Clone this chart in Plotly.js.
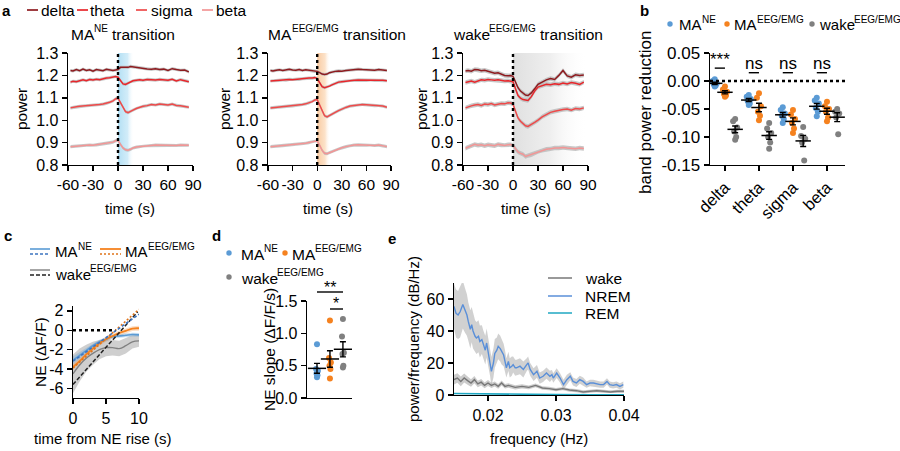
<!DOCTYPE html>
<html><head><meta charset="utf-8">
<script src="https://cdn.plot.ly/plotly-3.0.1.min.js"></script>
<style>html,body{margin:0;padding:0;background:#fff}#chart{width:900px;height:451px}</style>
</head><body><div id="chart"></div>
<script>
// ================= DATA =================
const bandNames = ['delta', 'theta', 'sigma', 'beta'];
const groupBase = ['MA', 'MA', 'wake'];
const groupSup = ['NE', 'EEG/EMG', 'EEG/EMG'];
const titleSuffix = ' transition';

// panel a: band power around transitions
const timeA = [-57,-54,-50,-46,-42,-38,-34,-30,-26,-22,-18,-14,-10,-6,-3,0,3,6,9,12,15,18,22,26,30,35,40,45,50,55,60,65,70,75,80,85];
const maNE_delta = [1.222,1.220,1.226,1.221,1.228,1.222,1.225,1.219,1.226,1.223,1.221,1.227,1.224,1.222,1.224,1.226,1.236,1.235,1.237,1.236,1.240,1.238,1.236,1.232,1.230,1.229,1.227,1.230,1.226,1.228,1.222,1.230,1.226,1.223,1.224,1.216];
const maNE_theta = [1.170,1.174,1.172,1.177,1.180,1.176,1.182,1.180,1.183,1.181,1.186,1.188,1.190,1.193,1.195,1.192,1.175,1.162,1.160,1.165,1.172,1.176,1.178,1.180,1.178,1.182,1.181,1.179,1.182,1.180,1.178,1.183,1.175,1.181,1.177,1.172];
const maNE_sigma = [1.055,1.058,1.060,1.062,1.063,1.065,1.066,1.065,1.068,1.070,1.072,1.075,1.080,1.086,1.095,1.098,1.078,1.055,1.038,1.034,1.038,1.045,1.052,1.058,1.062,1.065,1.070,1.068,1.072,1.070,1.068,1.072,1.066,1.064,1.060,1.058];
const maNE_beta  = [0.882,0.883,0.884,0.887,0.886,0.888,0.889,0.888,0.890,0.892,0.893,0.895,0.898,0.902,0.908,0.910,0.892,0.876,0.868,0.866,0.870,0.876,0.880,0.882,0.885,0.886,0.887,0.889,0.888,0.887,0.889,0.888,0.887,0.889,0.888,0.888];
const maEEG_delta = [1.222,1.220,1.223,1.225,1.222,1.224,1.227,1.224,1.223,1.226,1.222,1.225,1.223,1.220,1.218,1.218,1.212,1.206,1.204,1.206,1.212,1.216,1.218,1.220,1.219,1.222,1.224,1.226,1.228,1.226,1.224,1.225,1.223,1.226,1.224,1.222];
const maEEG_theta = [1.175,1.176,1.178,1.177,1.180,1.179,1.182,1.181,1.183,1.182,1.185,1.186,1.188,1.188,1.190,1.186,1.165,1.150,1.145,1.148,1.152,1.158,1.164,1.170,1.172,1.175,1.177,1.178,1.180,1.179,1.178,1.180,1.177,1.178,1.178,1.176];
const maEEG_sigma = [1.055,1.056,1.058,1.060,1.061,1.062,1.063,1.064,1.066,1.068,1.070,1.073,1.077,1.083,1.090,1.092,1.068,1.040,1.020,1.015,1.020,1.027,1.035,1.043,1.050,1.057,1.063,1.066,1.068,1.070,1.069,1.067,1.065,1.066,1.063,1.058];
const maEEG_beta  = [0.882,0.883,0.884,0.885,0.886,0.888,0.889,0.890,0.891,0.893,0.895,0.897,0.900,0.903,0.907,0.908,0.888,0.865,0.852,0.850,0.855,0.860,0.866,0.872,0.877,0.882,0.886,0.889,0.890,0.889,0.888,0.890,0.887,0.889,0.886,0.882];
const wake_delta = [1.220,1.222,1.219,1.226,1.225,1.221,1.223,1.219,1.215,1.210,1.212,1.205,1.200,1.198,1.199,1.196,1.170,1.145,1.130,1.120,1.112,1.110,1.122,1.140,1.160,1.170,1.180,1.186,1.182,1.200,1.222,1.198,1.192,1.203,1.200,1.202];
const wake_theta = [1.168,1.172,1.175,1.170,1.176,1.180,1.178,1.182,1.180,1.178,1.180,1.176,1.175,1.176,1.174,1.172,1.140,1.110,1.098,1.092,1.090,1.088,1.105,1.130,1.148,1.155,1.160,1.158,1.163,1.160,1.166,1.162,1.168,1.165,1.160,1.170];
const wake_sigma = [1.055,1.060,1.064,1.068,1.070,1.066,1.072,1.070,1.074,1.068,1.072,1.075,1.073,1.078,1.077,1.072,1.040,1.010,0.995,0.985,0.975,0.972,0.980,0.990,1.000,1.015,1.025,1.035,1.040,1.045,1.048,1.050,1.045,1.052,1.050,1.055];
const wake_beta  = [0.875,0.880,0.886,0.892,0.888,0.890,0.886,0.890,0.888,0.886,0.892,0.889,0.887,0.890,0.891,0.888,0.870,0.858,0.852,0.848,0.838,0.842,0.846,0.852,0.860,0.866,0.870,0.872,0.876,0.876,0.878,0.876,0.875,0.873,0.876,0.874];
const semA = [0.007, 0.007, 0.010];
const shadeStart = [0, 0, 0];
const shadeEnd = [19, 16, 90];

// panel b: band power reduction (per animal)
const bMANE  = [[0.003,0.000,-0.004,-0.006,-0.008,-0.010],[-0.025,-0.028,-0.032,-0.036,-0.040,-0.043],[-0.047,-0.052,-0.058,-0.062,-0.068,-0.075],[-0.030,-0.035,-0.040,-0.048,-0.055,-0.063]];
const bMAEEG = [[-0.010,-0.015,-0.019,-0.023,-0.026,-0.028],[-0.022,-0.030,-0.045,-0.055,-0.062,-0.070],[-0.052,-0.060,-0.068,-0.075,-0.085,-0.093],[-0.037,-0.045,-0.050,-0.055,-0.065,-0.072]];
const bWake  = [[-0.068,-0.072,-0.083,-0.090,-0.100,-0.105],[-0.075,-0.085,-0.093,-0.100,-0.110,-0.121],[-0.082,-0.098,-0.103,-0.110,-0.142],[-0.050,-0.055,-0.058,-0.065,-0.095]];
const bSigLabels = ['***', 'ns', 'ns', 'ns'];

// panel c: NE around rise
const cTime = [0,1,2,3,4,5,6,7,8,9,10];
const cMANE = [-3.1,-2.6,-2.1,-1.6,-1.2,-0.93,-0.66,-0.6,-0.52,-0.45,-0.48];
const cMANEsem = [0.4,0.35,0.3,0.25,0.22,0.2,0.2,0.2,0.2,0.2,0.2];
const cMAEEG = [-3.8,-3.2,-2.5,-1.9,-1.35,-0.93,-0.6,-0.3,-0.07,0.17,0.2];
const cMAEEGsem = [0.3,0.3,0.28,0.25,0.25,0.25,0.25,0.25,0.25,0.25,0.25];
const cWake = [-4.5,-3.6,-2.9,-2.4,-2.0,-1.8,-1.8,-1.9,-1.6,-1.2,-1.1];
const cWakesem = [2.0,1.7,1.4,1.2,1.0,0.9,0.8,0.8,0.8,0.7,0.6];
const cFitX = [0, 10];
const cFitMANE = [-3.2, 1.65];
const cFitMAEEG = [-3.9, 2.15];
const cFitWakeX = [0, 9.8];
const cFitWake = [-5.6, 1.9];

// panel d: NE slope
const dMANE = [0.83,0.45,0.42,0.38,0.35,0.32];
const dMAEEG = [1.20,0.62,0.55,0.50,0.45,0.30];
const dWake = [1.22,0.95,0.70,0.68,0.50,0.47];

// panel e: NE spectra
const nremF = [0.0150,0.0153,0.0156,0.0159,0.0163,0.0166,0.0169,0.0171,0.0174,0.0176,
  0.0178,0.0181,0.0183,0.0186,0.0188,0.0191,0.0193,0.0196,0.0198,0.0200,
  0.0203,0.0205,0.0208,0.0210,0.0213,0.0215,0.0218,0.0220,0.0223,0.0225,
  0.0227,0.0230,0.0232,0.0235,0.0237,0.0240,0.0242,0.0247,0.0252,0.0257,
  0.0259,0.0262,0.0267,0.0272,0.0276,0.0281,0.0286,0.0291,0.0294,0.0296,
  0.0301,0.0306,0.0311,0.0316,0.0321,0.0325,0.0330,0.0335,0.0340,0.0345,
  0.0350,0.0355,0.0360,0.0365,0.0370,0.0375,0.0379,0.0384,0.0389,0.0394,0.0399];
const nremP = [55.4,51,50,52,56.5,53,50,46,41,44,
  40,36.7,35.6,36.7,33.5,34.6,31.5,28,32.5,27,
  21,14.8,20,26,28,30.4,29,27,25,21,
  17,21,17,18,19,17,17,18,16,19,
  20,16,12.7,14.8,10.6,11.7,13.7,11.7,12.7,10.6,
  13.7,10.6,6.5,9.6,11.7,8.5,7.5,9.6,8.5,6.5,
  7.5,7.5,6.9,6.5,6.5,8.5,6.5,6,6.5,5.4,6.5];
const nremS = [14,15,15,16,15,14,13,12,12,11,
  11,10,10,10,10,9,9,9,9,9,
  9,9,9,9,8,8,8,8,7,7,
  6,6,6,6,5,5,5,5,5,4,
  4,4,4,4,3.5,3.5,3.5,3.5,3,3,
  3,3,3,3,2.5,2.5,2.5,2.5,2.5,2,
  2,2,2,2,2,2,2,2,2,2,2];
const wakeF = [0.0150,0.0155,0.0160,0.0165,0.0170,0.0175,0.0180,0.0185,0.0190,0.0195,0.0200,0.0205,0.0210,0.0215,0.0220,0.0225,0.0230,0.0240,0.0250,0.0260,0.0270,0.0280,0.0290,0.0300,0.0310,0.0320,0.0330,0.0340,0.0350,0.0360,0.0370,0.0380,0.0390,0.0400];
const wakeP = [9.6,10.6,8.5,10.6,9,7.5,9.6,6.9,8,6,7.5,6,6.9,5.4,7.5,5.4,6,4.8,5.4,4.8,6,4.4,4,3.3,4,3.1,2.7,1.9,2.3,2.7,2.3,1.9,2.3,2.3];
const wakeS = [3,3,3,2.8,2.6,2.4,2.2,2,2,1.8,1.8,1.6,1.6,1.5,1.5,1.4,1.4,1.3,1.3,1.2,1.2,1.1,1.1,1,1,1,1,1,1,1,1,1,1,1];
const remF = [0.015,0.020,0.025,0.030,0.035,0.040];
const remP = [0.9,0.6,0.4,0.3,0.2,0.2];

// ================= STYLE / HELPERS =================
const W = 900, H = 451;
const FONT = 'Liberation Sans, Arial, Helvetica, sans-serif';
const TICK = 16, TXT = 15, SUP = 10;
const bandColors = ['#8e1b1f', '#e8262b', '#ee4a4a', '#f29595'];
const cBlue = '#5b9bd5', cOrange = '#f5821f', cGray = '#808080';
const px = v => v / W, py = v => 1 - v / H;
const dom = (a, b) => [a / W, b / W];
const domY = (top, bot) => [1 - bot / H, 1 - top / H];
const f = s => ({family: FONT, size: s, color: '#000'});
const ctx = document.createElement('canvas').getContext('2d');
function tw(text, size) { ctx.font = size + 'px "Liberation Sans", Arial, sans-serif'; return ctx.measureText(text).width; }

function axis(extra) {
  return Object.assign({
    showline: true, linecolor: '#000', linewidth: 1.4, ticks: 'outside', ticklen: 5,
    tickwidth: 1.4, tickcolor: '#000', showgrid: false, zeroline: false, fixedrange: true,
    tickfont: f(TICK)
  }, extra);
}
function bandTrace(x, y, s, xa, ya, color) {
  const up = y.map((v, i) => v + s[i]);
  const lo = y.map((v, i) => v - s[i]).reverse();
  return {x: x.concat(x.slice().reverse()), y: up.concat(lo), mode: 'lines', fill: 'toself',
    fillcolor: color, line: {width: 0}, xaxis: xa, yaxis: ya, hoverinfo: 'skip', showlegend: false};
}
function lineTrace(x, y, xa, ya, color, width, dash, shape) {
  return {x, y, mode: 'lines', line: {color, width: width || 1.5, dash: dash || 'solid', shape: shape || 'linear'},
    xaxis: xa, yaxis: ya, hoverinfo: 'skip', showlegend: false};
}
const mean = a => a.reduce((s, v) => s + v, 0) / a.length;
const sem = a => { const m = mean(a); return Math.sqrt(a.reduce((s, v) => s + (v - m) * (v - m), 0) / (a.length - 1)) / Math.sqrt(a.length); };

const traces = [];
const shapes = [];
const annotations = [];
function ann(text, x, y, o) {
  annotations.push(Object.assign({text, x: px(x), y: py(y), xref: 'paper', yref: 'paper', showarrow: false,
    xanchor: 'center', yanchor: 'middle', borderpad: 0, borderwidth: 0, font: f(TXT)}, o || {}));
}
// text with a superscript: parts = [[text, isSup], ...]
function rich(parts, x, y, size, anchor) {
  const items = parts.map(([t, sup]) => {
    const sz = sup ? SUP : size;
    const lead = t.startsWith(' ') ? tw(' ', sz) : 0;
    const txt = t.trim();
    return {txt, sz, sup, lead, w: lead + tw(txt, sz)};
  });
  const total = items.reduce((s, it) => s + it.w, 0);
  let cur = anchor === 'center' ? x - total / 2 : x;
  items.forEach(it => {
    cur += it.lead;
    ann(it.txt, cur, it.sup ? y - 0.36 * size : y, {xanchor: 'left', font: f(it.sz)});
    cur += it.w - it.lead;
  });
}
function hline(x0, x1, y, color, width, dash) {
  shapes.push({type: 'line', xref: 'paper', yref: 'paper', x0: px(x0), x1: px(x1), y0: py(y), y1: py(y),
    line: {color, width: width || 1.5, dash: dash || 'solid'}});
}
function dot(x, y, color) {
  const r = 2.7;
  shapes.push({type: 'circle', xref: 'paper', yref: 'paper', x0: px(x - r), x1: px(x + r), y0: py(y + r), y1: py(y - r),
    fillcolor: color, line: {width: 0}});
}

// ================= PANEL A =================
const aSeries = [
  [maNE_delta, maNE_theta, maNE_sigma, maNE_beta],
  [maEEG_delta, maEEG_theta, maEEG_sigma, maEEG_beta],
  [wake_delta, wake_theta, wake_sigma, wake_beta]
];
const shadeScales = [
  [[0, 'rgba(165,218,242,0.85)'], [0.6, 'rgba(190,228,246,0.7)'], [1, 'rgba(255,255,255,0)']],
  [[0, 'rgba(248,196,150,0.9)'], [0.6, 'rgba(251,214,178,0.7)'], [1, 'rgba(255,255,255,0)']],
  [[0, 'rgba(222,222,222,0.95)'], [0.5, 'rgba(236,236,236,0.85)'], [1, 'rgba(255,255,255,0)']]
];
const aYRange = [0.8, 1.3];
for (let p = 0; p < 3; p++) {
  const xa = 'x' + (p + 1), ya = 'y' + (p + 1);
  traces.push({x: [shadeStart[p], shadeEnd[p], shadeEnd[p], shadeStart[p], shadeStart[p]],
    y: [aYRange[0], aYRange[0], aYRange[1], aYRange[1], aYRange[0]], mode: 'lines', fill: 'toself',
    line: {width: 0}, fillgradient: {type: 'horizontal', colorscale: shadeScales[p]},
    xaxis: xa, yaxis: ya, hoverinfo: 'skip', showlegend: false});
  const s = timeA.map(() => semA[p]);
  aSeries[p].forEach(y => traces.push(bandTrace(timeA, y, s, xa, ya, 'rgba(185,185,185,0.8)')));
  aSeries[p].forEach((y, k) => traces.push(lineTrace(timeA, y, xa, ya, bandColors[k], 1.5)));
  shapes.push({type: 'line', xref: xa, yref: ya + ' domain', x0: 0, x1: 0, y0: 0, y1: 1,
    line: {color: '#000', width: 2.4, dash: 'dot'}});
}

// ================= PANEL B =================
const bGroups = [bMANE, bMAEEG, bWake];
const bColors = [cBlue, cOrange, cGray];
const bOffset = [-0.3, 0, 0.3];
const jitter = [0, -0.06, 0.06, -0.03, 0.03, 0];
bGroups.forEach((g, gi) => {
  const xs = [], ys = [];
  g.forEach((vals, ci) => vals.forEach((v, k) => { xs.push(ci + bOffset[gi] + jitter[k % jitter.length]); ys.push(v); }));
  traces.push({x: xs, y: ys, mode: 'markers', marker: {color: bColors[gi], size: 6}, xaxis: 'x4', yaxis: 'y4',
    hoverinfo: 'skip', showlegend: false});
});
bGroups.forEach((g, gi) => {
  traces.push({x: g.map((v, ci) => ci + bOffset[gi]), y: g.map(mean), mode: 'markers',
    marker: {symbol: 'line-ew', size: 11, line: {color: '#000', width: 1.5}},
    error_y: {type: 'data', array: g.map(sem), color: '#000', thickness: 1.4, width: 3},
    xaxis: 'x4', yaxis: 'y4', hoverinfo: 'skip', showlegend: false});
});
shapes.push({type: 'line', xref: 'x4 domain', yref: 'y4', x0: 0, x1: 1, y0: 0, y1: 0, line: {color: '#000', width: 2.4, dash: 'dot'}});
bSigLabels.forEach((t, ci) => {
  const yl = ci === 0 ? 0.023 : 0.0148;
  shapes.push({type: 'line', xref: 'x4', yref: 'y4', x0: ci + bOffset[0], x1: ci + bOffset[1], y0: yl, y1: yl, line: {color: '#000', width: 1.4}});
  annotations.push({text: t, x: ci - 0.15, y: ci === 0 ? 0.039 : 0.031, xref: 'x4', yref: 'y4', showarrow: false,
    xanchor: 'center', yanchor: 'middle', font: f(17)});
});

// ================= PANEL C =================
traces.push(bandTrace(cTime, cWake, cWakesem, 'x5', 'y5', 'rgba(175,175,175,0.6)'));
traces.push(bandTrace(cTime, cMAEEG, cMAEEGsem, 'x5', 'y5', 'rgba(245,130,31,0.25)'));
traces.push(bandTrace(cTime, cMANE, cMANEsem, 'x5', 'y5', 'rgba(91,155,213,0.3)'));
traces.push(lineTrace(cTime, cWake, 'x5', 'y5', cGray, 1.4, 'solid', 'spline'));
traces.push(lineTrace(cTime, cMANE, 'x5', 'y5', cBlue, 1.6, 'solid', 'spline'));
traces.push(lineTrace(cTime, cMAEEG, 'x5', 'y5', cOrange, 1.8, 'solid', 'spline'));
traces.push(lineTrace(cFitWakeX, cFitWake, 'x5', 'y5', '#222', 1.5, '4px,2px'));
traces.push(lineTrace(cFitX, cFitMAEEG, 'x5', 'y5', '#e0741a', 1.6, '2px,2px'));
traces.push(lineTrace(cFitX, cFitMANE, 'x5', 'y5', '#3d74c0', 1.6, '3px,2px'));
shapes.push({type: 'line', xref: 'x5', yref: 'y5', x0: 0, x1: 6.4, y0: 0, y1: 0, line: {color: '#000', width: 2.4, dash: 'dot'}});

// ================= PANEL D =================
const dGroups = [dMANE, dMAEEG, dWake];
dGroups.forEach((g, gi) => {
  traces.push({x: g.map((v, k) => gi + jitter[k % jitter.length] * 1.2), y: g, mode: 'markers',
    marker: {color: bColors[gi], size: 6}, xaxis: 'x6', yaxis: 'y6', hoverinfo: 'skip', showlegend: false});
});
traces.push({x: [0, 1, 2], y: dGroups.map(mean), mode: 'markers',
  marker: {symbol: 'line-ew', size: 13, line: {color: '#000', width: 1.5}},
  error_y: {type: 'data', array: dGroups.map(sem), color: '#000', thickness: 1.4, width: 3},
  xaxis: 'x6', yaxis: 'y6', hoverinfo: 'skip', showlegend: false});

// ================= PANEL E =================
traces.push(bandTrace(nremF, nremP, nremS, 'x7', 'y7', 'rgba(190,190,190,0.7)'));
traces.push(bandTrace(wakeF, wakeP, wakeS, 'x7', 'y7', 'rgba(170,170,170,0.6)'));
traces.push(lineTrace(wakeF, wakeP, 'x7', 'y7', '#777', 1.4));
traces.push(lineTrace(nremF, nremP, 'x7', 'y7', '#5a8fd8', 1.4));
traces.push(lineTrace(remF, remP, 'x7', 'y7', '#1fa7c2', 1.6));

// ================= ANNOTATIONS / LEGENDS =================
ann('<b>a</b>', 2, 10, {xanchor: 'left', font: f(15)});
const legA = [[27, 38, 41], [77, 88, 90], [136, 147, 151], [202, 213, 216]];
bandNames.forEach((n, k) => { hline(legA[k][0], legA[k][1], 10, bandColors[k], 1.7); ann(n, legA[k][2], 10, {xanchor: 'left', font: f(15.5)}); });
const aTitleX = [123, 337, 528], aPowerX = [21, 224, 421], aTimeX = [130, 328, 526];
for (let p = 0; p < 3; p++) {
  rich([[groupBase[p], false], [groupSup[p], true], [titleSuffix, false]], aTitleX[p], 34, 15.5, 'center');
  ann('power', aPowerX[p], 109, {textangle: -90, font: f(15.5)});
  ann('time (s)', aTimeX[p], 208, {font: f(15)});
}
ann('<b>b</b>', 640, 10, {xanchor: 'left', font: f(15)});
const legB = [[670, 679], [727, 734], [812, 819]];
groupBase.forEach((n, gi) => { dot(legB[gi][0], 24, bColors[gi]); rich([[n, false], [groupSup[gi], true]], legB[gi][1], 25, 15, 'left'); });
ann('band power reduction', 646, 112, {textangle: -90, font: f(17)});

ann('<b>c</b>', 4, 235, {xanchor: 'left', font: f(15)});
hline(30, 50, 249, cBlue, 1.6); hline(30, 50, 254, '#3d74c0', 1.6, '3px,2px');
hline(100, 121, 249, cOrange, 1.8); hline(100, 121, 254, '#e0741a', 1.6, '2px,2px');
hline(30, 50, 270, cGray, 1.4); hline(30, 50, 275, '#222', 1.5, '4px,2px');
rich([[groupBase[0], false], [groupSup[0], true]], 55, 252, 15, 'left');
rich([[groupBase[1], false], [groupSup[1], true]], 125, 252, 15, 'left');
rich([[groupBase[2], false], [groupSup[2], true]], 55, 274, 15, 'left');
ann('NE (ΔF/F)', 40, 352, {textangle: -90, font: f(15.5)});
ann('time from NE rise (s)', 103, 438, {font: f(15)});

ann('<b>d</b>', 212, 235, {xanchor: 'left', font: f(15)});
dot(229, 253, cBlue); rich([[groupBase[0], false], [groupSup[0], true]], 241, 254, 15.5, 'left');
dot(285, 253, cOrange); rich([[groupBase[1], false], [groupSup[1], true]], 292, 254, 15.5, 'left');
dot(229, 277, cGray); rich([[groupBase[2], false], [groupSup[2], true]], 241, 278, 15.5, 'left');
hline(317, 343, 292, '#000', 1.4); ann('**', 330, 287, {font: f(16)});
hline(330, 343, 309, '#000', 1.4); ann('*', 336, 303, {font: f(16)});
ann('NE slope (ΔF/F/s)', 269, 350, {textangle: -90, font: f(15.5)});

ann('<b>e</b>', 388, 238, {xanchor: 'left', font: f(15)});
hline(548, 572, 278, '#777', 1.5); ann('wake', 585, 278, {xanchor: 'left', font: f(15.5)});
hline(548, 572, 296, '#5a8fd8', 1.5); ann('NREM', 585, 296, {xanchor: 'left', font: f(15.5)});
hline(548, 572, 313, '#1fa7c2', 1.5); ann('REM', 585, 313, {xanchor: 'left', font: f(15.5)});
ann('power/frequency (dB/Hz)', 413, 339, {textangle: -90, font: f(15)});
ann('frequency (Hz)', 539, 438, {font: f(15)});

// ================= LAYOUT =================
const aX = {range: [-60, 90], tickvals: [-60, -30, 0, 30, 60, 90], ticktext: ['-60', '-30', '0', '30', '60', '90'], tickangle: 0, tickfont: f(15.5)};
const aY = {range: [0.8, 1.3], tickvals: [0.8, 0.9, 1.0, 1.1, 1.2, 1.3], ticktext: ['0.8', '0.9', '1.0', '1.1', '1.2', '1.3']};
const layout = {
  width: W, height: H, margin: {l: 0, r: 0, t: 0, b: 0}, paper_bgcolor: '#fff', plot_bgcolor: 'rgba(0,0,0,0)',
  showlegend: false, font: f(TXT),
  xaxis: axis(Object.assign({domain: dom(68, 193), anchor: 'y'}, aX)),
  yaxis: axis(Object.assign({domain: domY(53, 165), anchor: 'x'}, aY)),
  xaxis2: axis(Object.assign({domain: dom(268, 391), anchor: 'y2'}, aX)),
  yaxis2: axis(Object.assign({domain: domY(53, 165), anchor: 'x2'}, aY)),
  xaxis3: axis(Object.assign({domain: dom(463, 588), anchor: 'y3'}, aX)),
  yaxis3: axis(Object.assign({domain: domY(53, 165), anchor: 'x3'}, aY)),
  xaxis4: axis({domain: dom(710, 845), anchor: 'y4', range: [-0.44, 3.53], tickvals: [0, 1, 2, 3], ticktext: bandNames, tickangle: -45, tickfont: f(16.5)}),
  yaxis4: axis({domain: domY(53, 165), anchor: 'x4', range: [-0.15, 0.05], tickvals: [-0.15, -0.1, -0.05, 0, 0.05], ticktext: ['-0.15', '-0.10', '-0.05', '0.00', '0.05'], tickfont: f(17)}),
  xaxis5: axis({domain: dom(73, 139), anchor: 'y5', range: [0, 10], tickvals: [0, 5, 10], tickangle: 0}),
  yaxis5: axis({domain: domY(306, 398), anchor: 'x5', range: [-7, 2.5], tickvals: [-6, -4, -2, 0, 2], ticktext: ['-6', '-4', '-2', '0', '2']}),
  xaxis6: axis({domain: dom(307, 352), anchor: 'y6', range: [-0.77, 2.7], ticks: '', showticklabels: false}),
  yaxis6: axis({domain: domY(301, 398), anchor: 'x6', range: [0, 1.5], tickvals: [0, 0.5, 1, 1.5], ticktext: ['0.0', '0.5', '1.0', '1.5']}),
  xaxis7: axis({domain: dom(454, 624), anchor: 'y7', range: [0.015, 0.04], tickvals: [0.02, 0.03, 0.04], ticktext: ['0.02', '0.03', '0.04'], tickangle: 0}),
  yaxis7: axis({domain: domY(283, 395), anchor: 'x7', range: [0, 70], tickvals: [0, 20, 40, 60]}),
  shapes, annotations
};
Plotly.newPlot('chart', traces, layout, {staticPlot: true, displayModeBar: false});
</script>
</body></html>
